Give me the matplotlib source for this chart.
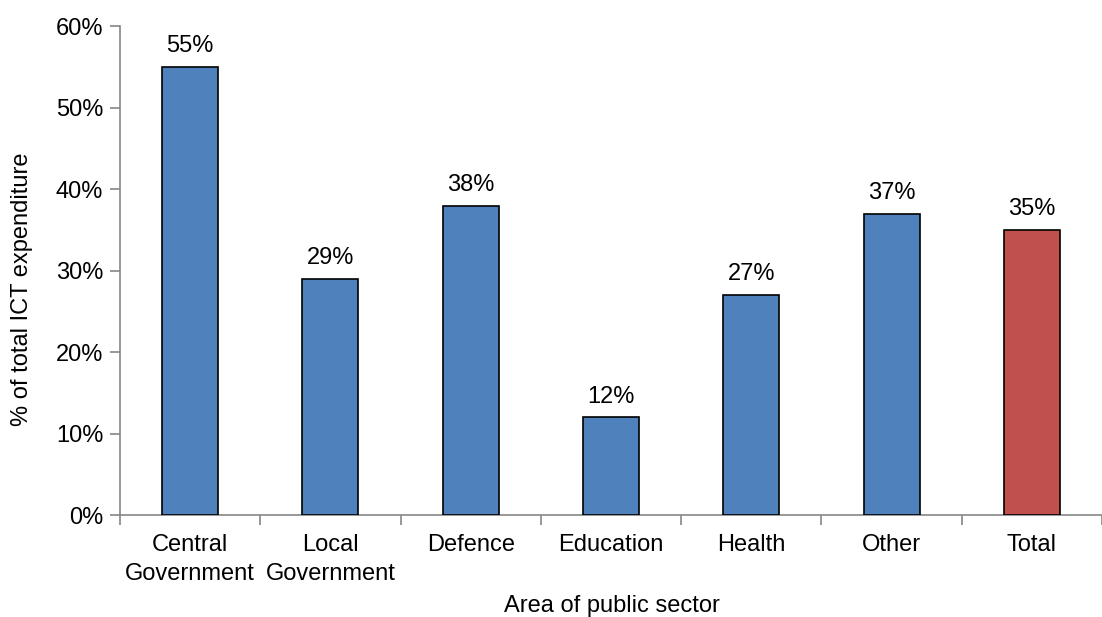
import matplotlib.pyplot as plt
import numpy as np

categories = ["Central\nGovernment", "Local\nGovernment", "Defence", "Education",
              "Health", "Other", "Total"]
share = [55, 29, 38, 12, 27, 37, 35]
colors = ["#4F81BD"] * 6 + ["#C0504D"]

plt.rcParams["font.family"] = ["Liberation Sans", "DejaVu Sans"]
plt.rcParams["font.size"] = 17

fig = plt.figure(figsize=(11.02, 6.17), dpi=100)
ax = fig.add_axes([120 / 1102, 1 - 515 / 617, 982 / 1102, (515 - 26.5) / 617])

x = np.arange(len(categories))
vals = np.array(share) / 100
ax.bar(x, vals, width=0.4, color=colors, edgecolor="black", linewidth=1.2, zorder=3)

for xi, v, s in zip(x, vals, share):
    ax.text(xi, v + 0.012, f"{s}%", ha="center", va="bottom", fontsize=17)

ax.set_ylim(0, 0.6)
ax.set_xlim(-0.5, 6.44)
ticks = np.arange(0, 0.61, 0.1)
ax.set_yticks(ticks)
ax.set_yticklabels([f"{int(round(t * 100))}%" for t in ticks])

ax.set_xticks(x)
ax.set_xticklabels(categories, linespacing=1.4)
ax.tick_params(axis="x", which="major", length=0, pad=14)
ax.set_xticks(np.arange(-0.5, 7, 1), minor=True)
ax.tick_params(axis="x", which="minor", length=7, color="#868686", width=1.2)
ax.tick_params(axis="y", length=7, color="#868686", width=1.2, pad=5)

for side in ["top", "right"]:
    ax.spines[side].set_visible(False)
for side in ["left", "bottom"]:
    ax.spines[side].set_color("#868686")
    ax.spines[side].set_linewidth(1.2)

h = 515 - 26.5
ax.set_ylabel("% of total ICT expenditure", fontsize=17)
ax.yaxis.set_label_coords(-(120 - 22) / 982, (515 - 289) / h)
ax.set_xlabel("Area of public sector", fontsize=17)
ax.xaxis.set_label_coords((612 - 120) / 982, -(606 - 515) / h)
ax.xaxis.label.set_va("center")
ax.yaxis.label.set_va("center")

fig.savefig("out.png", dpi=100)
